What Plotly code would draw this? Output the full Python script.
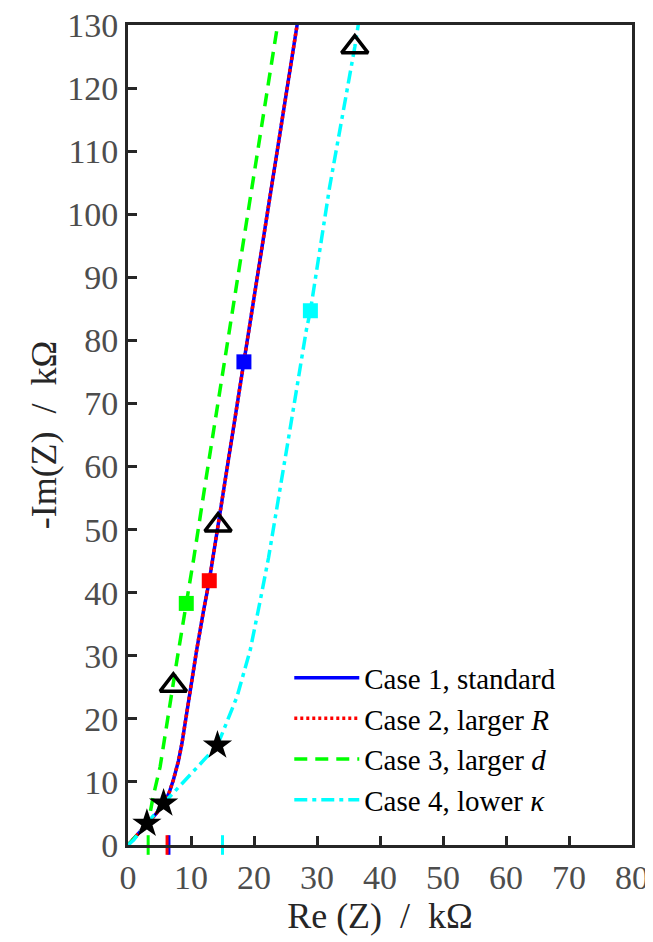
import plotly.graph_objects as go

# ---- data (kOhm) ----
case1_re = [0.0, 1.5, 3.0, 4.5, 5.65, 6.5, 7.2, 8.0, 8.56, 9.6, 10.9, 12.0, 12.9, 14.3, 18.4, 22.5, 26.8, 27.0]
case1_im = [0.0, 1.7, 3.4, 5.0, 6.6, 8.2, 10.3, 13.3, 16.1, 23.0, 30.9, 37.2, 41.9, 50.7, 76.6, 102.5, 129.7, 131.0]

case2_re = [0.0, 1.5, 3.0, 4.5, 5.65, 6.5, 7.2, 8.0, 8.56, 9.6, 10.9, 12.0, 12.9, 14.3, 18.4, 22.5, 26.8, 27.0]
case2_im = [0.0, 1.7, 3.4, 5.0, 6.6, 8.2, 10.3, 13.3, 16.1, 23.0, 30.9, 37.2, 41.9, 50.7, 76.6, 102.5, 129.7, 131.0]

case3_re = [0.0, 1.5, 3.0, 3.5, 4.0, 5.1, 6.45, 7.2, 7.77, 9.25, 10.4, 12.5, 15.9, 19.9, 23.7, 23.9]
case3_im = [0.0, 1.6, 3.2, 5.0, 7.7, 12.4, 21.4, 25.6, 29.3, 38.3, 45.2, 58.8, 80.2, 105.4, 129.2, 131.0]

case4_re = [0.0, 0.9, 3.0, 5.65, 10.4, 14.2, 17.3, 19.4, 21.0, 22.3, 25.7, 28.3, 28.95, 32.0, 36.0, 36.5, 36.7]
case4_im = [0.0, 0.8, 3.4, 6.6, 11.7, 15.8, 23.5, 30.9, 38.8, 45.5, 65.8, 81.6, 84.7, 104.3, 126.5, 129.7, 131.0]

# characteristic-frequency markers
star_re = [3.0, 5.65, 14.2]
star_im = [3.4, 6.6, 15.8]
tri_re = [7.2, 14.3, 36.0]
tri_im = [25.3, 50.7, 126.5]
sq_re = [18.4, 12.9, 9.25, 28.95]
sq_im = [76.6, 41.9, 38.3, 84.7]
sq_col = ["#0000ff", "#ff0000", "#00ff00", "#00ffff"]

# high-frequency intercepts on the real axis
hf_re = [3.2, 6.5, 6.2, 15.0]
hf_col = ["#00ff00", "#0000ff", "#ff0000", "#00ffff"]

legend_names = ["Case 1, standard", "Case 2, larger <i>R</i>",
                "Case 3, larger <i>d</i>", "Case 4, lower <i>κ</i>"]

x_ticks = [0, 10, 20, 30, 40, 50, 60, 70, 80]
y_ticks = list(range(0, 131, 10))

FONT = "Liberation Serif, Times New Roman, DejaVu Serif, serif"
AX = "#262626"
SP = "\u2002"

fig = go.Figure()
fig.add_trace(go.Scatter(x=case1_re, y=case1_im, mode="lines", name=legend_names[0],
                         line=dict(color="#0000ff", width=3.5)))
fig.add_trace(go.Scatter(x=case2_re, y=case2_im, mode="lines", name=legend_names[1],
                         line=dict(color="#ff0000", width=3.5, dash="3px,3px")))
fig.add_trace(go.Scatter(x=case3_re, y=case3_im, mode="lines", name=legend_names[2],
                         line=dict(color="#00ff00", width=3.5, dash="13px,8px")))
fig.add_trace(go.Scatter(x=case4_re, y=case4_im, mode="lines", name=legend_names[3],
                         line=dict(color="#00ffff", width=3.5, dash="13px,5px,4px,5px")))

fig.add_trace(go.Scatter(x=hf_re, y=[0] * len(hf_re), mode="markers", showlegend=False,
                         cliponaxis=False,
                         marker=dict(symbol="line-ns", size=14,
                                     line=dict(color=hf_col, width=3))))
fig.add_trace(go.Scatter(x=sq_re, y=sq_im, mode="markers", showlegend=False,
                         marker=dict(symbol="square", size=15, color=sq_col,
                                     line=dict(width=0))))
fig.add_trace(go.Scatter(x=tri_re, y=tri_im, mode="markers", showlegend=False,
                         marker=dict(symbol="triangle-up-open", size=23, color="black",
                                     line=dict(color="black", width=3.5))))
fig.add_trace(go.Scatter(x=star_re, y=star_im, mode="markers", showlegend=False,
                         cliponaxis=False,
                         marker=dict(symbol="star", size=22, color="black",
                                     line=dict(width=0))))

axis_common = dict(showline=True, linewidth=3, linecolor=AX, mirror=True,
                   ticks="inside", ticklen=9, tickwidth=3, tickcolor=AX,
                   showgrid=False, zeroline=False, automargin=False,
                   ticklabeloverflow="allow",
                   tickfont=dict(family=FONT, size=34, color="#4d4d4d"))

fig.update_xaxes(range=[0, 80], tickvals=x_ticks, **axis_common,
                 title=dict(text="Re (Z)" + SP + "/" + SP + "kΩ",
                            font=dict(family=FONT, size=36, color=AX), standoff=2))
fig.update_yaxes(range=[0, 130], tickvals=y_ticks, **axis_common,
                 title=dict(text="-Im(Z)" + SP + "/" + SP + "kΩ",
                            font=dict(family=FONT, size=36, color=AX), standoff=0))

fig.update_layout(
    width=645, height=934,
    margin=dict(l=120, r=21, t=17, b=97),
    plot_bgcolor="white", paper_bgcolor="white",
    legend=dict(x=0.32, y=0.235, xanchor="left", yanchor="top",
                bgcolor="rgba(0,0,0,0)", itemwidth=65,
                font=dict(family=FONT, size=29, color="black"),
                tracegroupgap=0),
)

fig.write_html("out.html")
